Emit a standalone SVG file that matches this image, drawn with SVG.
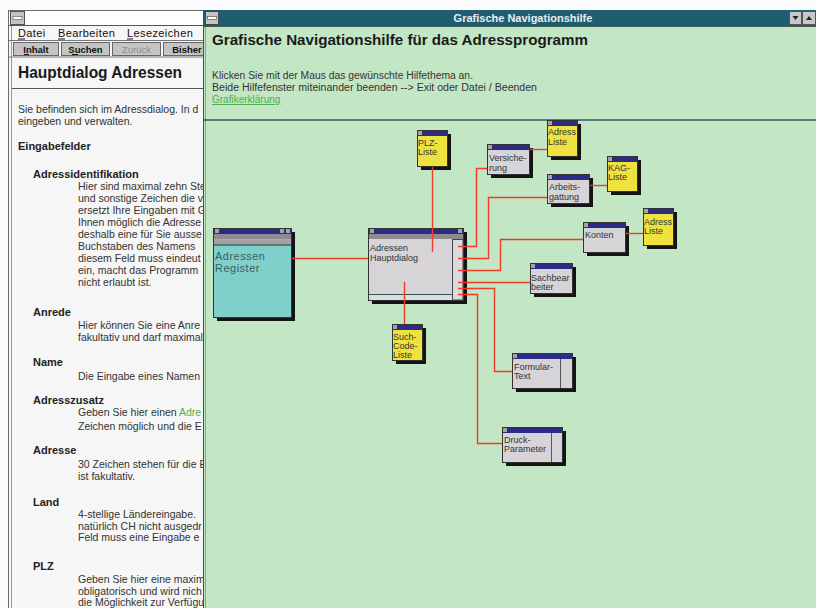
<svg xmlns="http://www.w3.org/2000/svg" width="816" height="608" viewBox="0 0 816 608">
<style>
text{font-family:"Liberation Sans",Arial,sans-serif}
.lt{font-size:10.5px;fill:#333}
.lb{font-size:11px;font-weight:bold;fill:#222}
.mn{font-size:11px;fill:#111;letter-spacing:0.4px}
.bt{font-size:9.5px;font-weight:bold;fill:#111;text-anchor:middle}
.btn{fill:#c4c4c4;stroke:#666;stroke-width:1}
.nt{font-size:9px;fill:#333}
.sh{fill:#141414}
.gr{fill:#d6d4d6;stroke:#333;stroke-width:1}
.ye{fill:#f0e23e;stroke:#333;stroke-width:1}
.tb{fill:#2c2c86}
.sq{fill:#a4a4a4}
.wire{stroke:#f23a26;fill:none;stroke-width:1.4}
.lnk{fill:#4fae4f}
</style>
<rect width="816" height="608" fill="#fbfbfb"/>

<!-- Left help window -->
<g id="left-window">
  <rect x="8.5" y="10.5" width="200" height="600" fill="#f5f6f5" stroke="#6a6a6a"/>
  <line x1="11.5" y1="25" x2="11.5" y2="608" stroke="#9a9a9a"/>
  <rect x="9" y="11" width="199" height="14" fill="#ffffff"/>
  <rect x="10.5" y="11.5" width="14" height="13" fill="#c4c4c4" stroke="#555"/>
  <rect x="13" y="16.5" width="9" height="3" fill="#fff" stroke="#555" stroke-width="0.6"/>
  <line x1="9" y1="25.5" x2="208" y2="25.5" stroke="#555"/>
  <text class="mn" x="18" y="37">Datei</text>
  <text class="mn" x="58" y="37">Bearbeiten</text>
  <text class="mn" x="127" y="37">Lesezeichen</text>
  <line x1="18" y1="39" x2="25" y2="39" stroke="#111"/>
  <line x1="58" y1="39" x2="65" y2="39" stroke="#111"/>
  <line x1="127" y1="39" x2="133" y2="39" stroke="#111"/>
  <line x1="9" y1="40.5" x2="208" y2="40.5" stroke="#777"/>
  <rect class="btn" x="13.5" y="42.5" width="45" height="13"/>
  <rect class="btn" x="61.5" y="42.5" width="48" height="13"/>
  <rect class="btn" x="112.5" y="42.5" width="48" height="13"/>
  <rect class="btn" x="163.5" y="42.5" width="44" height="13"/>
  <text class="bt" x="36" y="53">Inhalt</text>
  <text class="bt" x="85.5" y="53">Suchen</text>
  <text class="bt" x="136.5" y="53" style="fill:#8c8c8c;font-weight:normal">Zurück</text>
  <text class="bt" x="187" y="53">Bisher</text>
  <line x1="24" y1="54.5" x2="29" y2="54.5" stroke="#111"/>
  <line x1="72" y1="54.5" x2="78" y2="54.5" stroke="#111"/>
  <line x1="9" y1="57" x2="208" y2="57" stroke="#777"/>
  <text x="18" y="78" style="font-size:16px;font-weight:bold;fill:#1a1a1a" textLength="164" lengthAdjust="spacingAndGlyphs">Hauptdialog Adressen</text>
  <line x1="12" y1="88.5" x2="208" y2="88.5" stroke="#555"/>
  <text class="lt" x="18" y="113">Sie befinden sich im Adressdialog. In d</text>
  <text class="lt" x="18" y="125">eingeben und verwalten.</text>
  <text class="lb" x="18" y="150">Eingabefelder</text>
  <text class="lb" x="33" y="178">Adressidentifikation</text>
  <text class="lt" x="78" y="190">Hier sind maximal zehn Ste</text>
  <text class="lt" x="78" y="202">und sonstige Zeichen die v</text>
  <text class="lt" x="78" y="214">ersetzt Ihre Eingaben mit G</text>
  <text class="lt" x="78" y="226">Ihnen möglich die Adresse</text>
  <text class="lt" x="78" y="238">deshalb eine für Sie ausse</text>
  <text class="lt" x="78" y="250">Buchstaben des Namens</text>
  <text class="lt" x="78" y="262">diesem Feld muss eindeut</text>
  <text class="lt" x="78" y="274">ein, macht das Programm</text>
  <text class="lt" x="78" y="286">nicht erlaubt ist.</text>
  <text class="lb" x="33" y="316">Anrede</text>
  <text class="lt" x="78" y="329">Hier können Sie eine Anre</text>
  <text class="lt" x="78" y="341">fakultativ und darf maximal</text>
  <text class="lb" x="33" y="366">Name</text>
  <text class="lt" x="78" y="380">Die Eingabe eines Namen</text>
  <text class="lb" x="33" y="404">Adresszusatz</text>
  <text class="lt" x="78" y="416">Geben Sie hier einen <tspan class="lnk">Adre</tspan></text>
  <text class="lt" x="78" y="430">Zeichen möglich und die E</text>
  <text class="lb" x="33" y="454">Adresse</text>
  <text class="lt" x="78" y="468">30 Zeichen stehen für die E</text>
  <text class="lt" x="78" y="480">ist fakultativ.</text>
  <text class="lb" x="33" y="506">Land</text>
  <text class="lt" x="78" y="518">4-stellige Ländereingabe.</text>
  <text class="lt" x="78" y="530">natürlich CH nicht ausgedr</text>
  <text class="lt" x="78" y="541">Feld muss eine Eingabe e</text>
  <text class="lb" x="33" y="570">PLZ</text>
  <text class="lt" x="78" y="583">Geben Sie hier eine maxim</text>
  <text class="lt" x="78" y="595">obligatorisch und wird nich</text>
  <text class="lt" x="78" y="606">die Möglichkeit zur Verfügu</text>
</g>

<!-- Right window -->
<g id="right-window">
  <rect x="203" y="10" width="613" height="600" fill="#c3e7c5"/>
  <line x1="203.5" y1="10" x2="203.5" y2="608" stroke="#4a4a4a"/>
  <line x1="205.5" y1="26" x2="205.5" y2="608" stroke="#8aa88a"/>
  <rect x="204" y="10" width="612" height="16" fill="#1f5d70"/>
  <rect x="205.5" y="11.5" width="13" height="13" fill="#c4c4c4" stroke="#444"/>
  <rect x="207.5" y="16.5" width="9" height="3" fill="#fff" stroke="#444" stroke-width="0.6"/>
  <text x="523" y="22" style="font-size:11px;font-weight:bold;fill:#e8eef0;text-anchor:middle">Grafische Navigationshilfe</text>
  <rect x="789.5" y="11.5" width="12" height="13" fill="#c8c8c8" stroke="#555"/>
  <rect x="802.5" y="11.5" width="13" height="13" fill="#c8c8c8" stroke="#555"/>
  <path d="M792.5,16 h6 l-3,4 z" fill="#222"/>
  <path d="M806,20 h6 l-3,-4 z" fill="#222"/>
  <line x1="204" y1="26.5" x2="816" y2="26.5" stroke="#3d5e55"/>
  <text x="212" y="45" style="font-size:15px;font-weight:bold;fill:#1a1a1a" textLength="376" lengthAdjust="spacingAndGlyphs">Grafische Navigationshilfe für das Adressprogramm</text>
  <text x="212" y="79" style="font-size:10px;fill:#333" textLength="261" lengthAdjust="spacingAndGlyphs">Klicken Sie mit der Maus das gewünschte Hilfethema an.</text>
  <text x="212" y="91" style="font-size:10px;fill:#333" textLength="325" lengthAdjust="spacingAndGlyphs">Beide Hilfefenster miteinander beenden --&gt; Exit oder Datei / Beenden</text>
  <text x="212" y="103" style="font-size:10px;fill:#4fae4f" text-decoration="underline">Grafikerklärung</text>
  <line x1="204" y1="120" x2="816" y2="120" stroke="#2f5a58" stroke-width="1.5"/>
</g>

<!-- Nodes -->
<g id="node-register">
  <rect class="sh" x="217" y="232" width="78" height="89"/>
  <rect x="213.5" y="228.5" width="78" height="89" fill="#7fd0cb" stroke="#333"/>
  <rect class="tb" x="214" y="229" width="77" height="5"/>
  <rect class="sq" x="215" y="229" width="4" height="4"/>
  <rect class="sq" x="280" y="229" width="4" height="4"/>
  <rect class="sq" x="286" y="229" width="4" height="4"/>
  <rect x="214" y="234" width="77" height="5" fill="#8e8a8e"/>
  <rect x="214" y="239.5" width="77" height="5" fill="#a4a0a4"/>
  <line x1="214" y1="245" x2="291" y2="245" stroke="#333"/>
  <text x="215" y="260" style="font-size:11px;fill:#3d5e5c;letter-spacing:0.5px">Adressen</text>
  <text x="215" y="272" style="font-size:11px;fill:#3d5e5c;letter-spacing:0.5px">Register</text>
</g>

<g id="node-hauptdialog">
  <rect class="sh" x="372" y="232" width="95" height="72"/>
  <rect class="gr" x="368.5" y="228.5" width="95" height="72"/>
  <rect class="tb" x="369" y="229" width="94" height="5"/>
  <rect class="sq" x="370" y="229" width="4" height="4"/>
  <rect class="sq" x="458" y="229" width="4" height="4"/>
  <rect x="369" y="234" width="94" height="5" fill="#8e8a8e"/>
  <rect x="452.5" y="239.5" width="10.5" height="60.5" fill="#dcdadc" stroke="#444"/>
  <line x1="369" y1="294.5" x2="452" y2="294.5" stroke="#2f5a58"/>
  <rect x="369" y="295" width="83" height="5" fill="#dedcde"/>
  <text class="nt" x="370" y="251">Adressen</text>
  <text class="nt" x="370" y="261">Hauptdialog</text>
</g>

<g id="node-plz-liste">
  <rect class="sh" x="421" y="134" width="30" height="36"/>
  <rect class="ye" x="417.5" y="130.5" width="30" height="36"/>
  <rect class="tb" x="418" y="131" width="29" height="5"/>
  <rect class="sq" x="418" y="131" width="4" height="4"/>
  <text class="nt" x="418" y="146">PLZ-</text>
  <text class="nt" x="418" y="155">Liste</text>
</g>

<g id="node-versicherung">
  <rect class="sh" x="491" y="148" width="42" height="30"/>
  <rect class="gr" x="487.5" y="144.5" width="42" height="30"/>
  <rect class="tb" x="488" y="145" width="41" height="5"/>
  <rect class="sq" x="488" y="145" width="4" height="4"/>
  <text class="nt" x="489" y="161">Versiche-</text>
  <text class="nt" x="489" y="171">rung</text>
</g>

<g id="node-adress-liste-1">
  <rect class="sh" x="551" y="124" width="30" height="36"/>
  <rect class="ye" x="547.5" y="120.5" width="30" height="36"/>
  <rect class="tb" x="548" y="121" width="29" height="5"/>
  <rect class="sq" x="548" y="121" width="4" height="4"/>
  <text class="nt" x="548" y="135">Adress</text>
  <text class="nt" x="548" y="145">Liste</text>
</g>

<g id="node-arbeitsgattung">
  <rect class="sh" x="551" y="178" width="42" height="29"/>
  <rect class="gr" x="547.5" y="174.5" width="42" height="29"/>
  <rect class="tb" x="548" y="175" width="41" height="5"/>
  <rect class="sq" x="548" y="175" width="4" height="4"/>
  <text class="nt" x="549" y="190">Arbeits-</text>
  <text class="nt" x="549" y="200">gattung</text>
</g>

<g id="node-kag-liste">
  <rect class="sh" x="611" y="160" width="30" height="35"/>
  <rect class="ye" x="607.5" y="156.5" width="30" height="35"/>
  <rect class="tb" x="608" y="157" width="29" height="5"/>
  <rect class="sq" x="608" y="157" width="4" height="4"/>
  <text class="nt" x="608" y="171">KAG-</text>
  <text class="nt" x="608" y="180">Liste</text>
</g>

<g id="node-konten">
  <rect class="sh" x="587" y="226" width="42" height="30"/>
  <rect class="gr" x="583.5" y="222.5" width="42" height="30"/>
  <rect class="tb" x="584" y="223" width="41" height="5"/>
  <rect class="sq" x="584" y="223" width="4" height="4"/>
  <text class="nt" x="585" y="238">Konten</text>
</g>

<g id="node-adress-liste-2">
  <rect class="sh" x="647" y="212" width="30" height="37"/>
  <rect class="ye" x="643.5" y="208.5" width="30" height="37"/>
  <rect class="tb" x="644" y="209" width="29" height="5"/>
  <rect class="sq" x="644" y="209" width="4" height="4"/>
  <text class="nt" x="644" y="225">Adress</text>
  <text class="nt" x="644" y="234">Liste</text>
</g>

<g id="node-sachbearbeiter">
  <rect class="sh" x="534" y="267" width="42" height="30"/>
  <rect class="gr" x="530.5" y="263.5" width="42" height="30"/>
  <rect class="tb" x="531" y="264" width="41" height="5"/>
  <rect class="sq" x="531" y="264" width="4" height="4"/>
  <text class="nt" x="531" y="281">Sachbear</text>
  <text class="nt" x="531" y="290">beiter</text>
</g>

<g id="node-such-code-liste">
  <rect class="sh" x="396" y="328" width="30" height="36"/>
  <rect class="ye" x="392.5" y="324.5" width="30" height="36"/>
  <rect class="tb" x="393" y="325" width="29" height="5"/>
  <rect class="sq" x="393" y="325" width="4" height="4"/>
  <text class="nt" x="393" y="340">Such-</text>
  <text class="nt" x="393" y="349">Code-</text>
  <text class="nt" x="393" y="358">Liste</text>
</g>

<g id="node-formular-text">
  <rect class="sh" x="516" y="357" width="60" height="35"/>
  <rect class="gr" x="512.5" y="353.5" width="60" height="35"/>
  <rect class="tb" x="513" y="354" width="59" height="5"/>
  <rect class="sq" x="513" y="354" width="4" height="4"/>
  <line x1="560.5" y1="359" x2="560.5" y2="388" stroke="#555"/>
  <text class="nt" x="514" y="370">Formular-</text>
  <text class="nt" x="514" y="379">Text</text>
</g>

<g id="node-druck-parameter">
  <rect class="sh" x="506" y="431" width="60" height="35"/>
  <rect class="gr" x="502.5" y="427.5" width="60" height="35"/>
  <rect class="tb" x="503" y="428" width="59" height="5"/>
  <rect class="sq" x="503" y="428" width="4" height="4"/>
  <line x1="551.5" y1="433" x2="551.5" y2="462" stroke="#555"/>
  <text class="nt" x="504" y="443">Druck-</text>
  <text class="nt" x="504" y="452">Parameter</text>
</g>

<!-- Connectors -->
<g id="connectors" class="wire">
  <path d="M292,258.5 H368"/>
  <path d="M432.5,167 V252"/>
  <path d="M404.5,282 V324"/>
  <path d="M458,246.5 H476.5 V168.5 H487"/>
  <path d="M458,258.5 H488.5 V197.5 H547"/>
  <path d="M458,270.5 H500.5 V239.5 H583"/>
  <path d="M458,282.5 H530"/>
  <path d="M458,288.5 H494.5 V371.5 H512"/>
  <path d="M458,294.5 H477.5 V443.5 H502"/>
  <path d="M530,149.5 H547"/>
  <path d="M590,185.5 H607"/>
  <path d="M626,233.5 H643"/>
</g>
</svg>
